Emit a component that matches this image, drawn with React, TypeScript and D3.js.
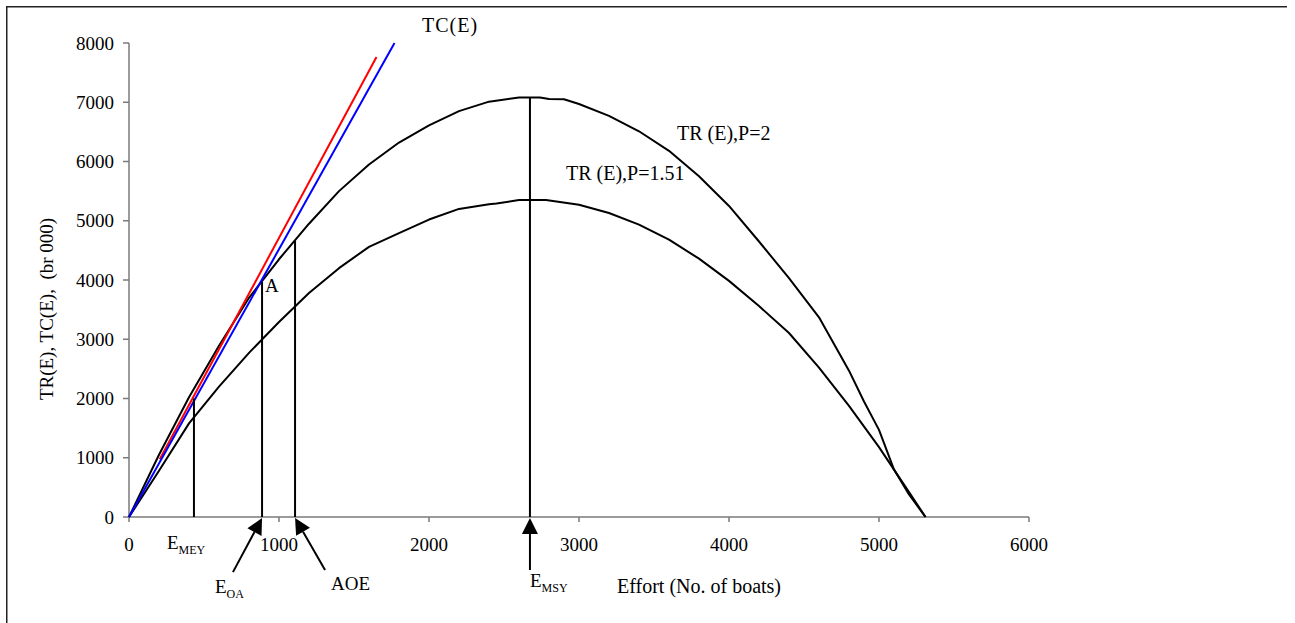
import React from "react";
import * as d3 from "d3";

// Fishing effort (number of boats)
const effortP2 = [0, 200, 400, 600, 800, 1000, 1200, 1400, 1600, 1800, 2000, 2200, 2400, 2600, 2740, 2800, 2900, 3000, 3200, 3400, 3600, 3800, 4000, 4200, 4400, 4600, 4800, 4900, 5000, 5100, 5200, 5310];
// Total revenue at price P = 2 (br 000)
const revenueP2 = [0, 1050, 2020, 2890, 3700, 4350, 4950, 5500, 5950, 6320, 6610, 6850, 7010, 7080, 7080, 7055, 7050, 6970, 6770, 6510, 6180, 5750, 5250, 4650, 4030, 3370, 2470, 1950, 1470, 800, 420, 0];

const effortP151 = [0, 200, 400, 600, 800, 1000, 1200, 1400, 1600, 1800, 2000, 2200, 2400, 2450, 2600, 2780, 3000, 3200, 3400, 3600, 3800, 4000, 4200, 4400, 4600, 4800, 5000, 5100, 5200, 5310];
// Total revenue at price P = 1.51 (br 000)
const revenueP151 = [0, 780, 1580, 2200, 2770, 3290, 3780, 4200, 4560, 4790, 5020, 5200, 5280, 5290, 5350, 5350, 5270, 5130, 4935, 4680, 4360, 3985, 3560, 3105, 2520, 1875, 1180, 800, 380, 0];

// Total cost lines
const costBlueEffort = [0, 1770];
const costBlue = [0, 8000];
const costRedEffort = [205, 1650];
const costRed = [975, 7765];

// Reference effort levels
const refEffort = [433, 887, 1107, 2673];
const refTop = [2000, 3975, 4660, 7085];

const xTicks = [0, 1000, 2000, 3000, 4000, 5000, 6000];
const yTicks = [0, 1000, 2000, 3000, 4000, 5000, 6000, 7000, 8000];

const FONT = "'Liberation Serif', 'Times New Roman', serif";

export default function App() {
  const W = 1295;
  const H = 623;
  const x = d3.scaleLinear().domain([0, 6000]).range([129, 1029]);
  const y = d3.scaleLinear().domain([0, 8000]).range([517, 43]);

  const line = d3
    .line<[number, number]>()
    .x((d) => x(d[0]))
    .y((d) => y(d[1]));

  const zip = (a: number[], b: number[]) => a.map((v, i) => [v, b[i]] as [number, number]);

  // Arrow: tip on the axis at effort e, tail below the axis (data units)
  const arrow = (e: number, tailE: number, tailV: number, key: string) => {
    const tx = x(e);
    const ty = y(0) + 1;
    const sx = x(tailE);
    const sy = y(tailV);
    const dx = tx - sx;
    const dy = ty - sy;
    const len = Math.hypot(dx, dy);
    const ux = dx / len;
    const uy = dy / len;
    const hl = 16;
    const hw = 8;
    const bx = tx - ux * hl;
    const by = ty - uy * hl;
    const p1 = [bx - uy * hw, by + ux * hw];
    const p2 = [bx + uy * hw, by - ux * hw];
    return (
      <g key={key}>
        <line x1={sx} y1={sy} x2={bx} y2={by} stroke="#000" strokeWidth={2} />
        <polygon points={`${tx},${ty} ${p1[0]},${p1[1]} ${p2[0]},${p2[1]}`} fill="#000" />
      </g>
    );
  };

  return (
    <svg
      width={W}
      height={H}
      style={{ position: "absolute", left: 0, top: 0, background: "#fff" }}
      fontFamily={FONT}
    >
      <rect x={0} y={0} width={W} height={H} fill="#fff" />
      {/* frame */}
      <path d="M6.75,623 V6.75 H1287" fill="none" stroke="#222" strokeWidth={1.5} />

      {/* axes */}
      <line x1={x(0)} x2={x(6000)} y1={y(0)} y2={y(0)} stroke="#7a7a7a" strokeWidth={1.5} />
      <line x1={x(0)} x2={x(0)} y1={y(0)} y2={y(8000)} stroke="#7a7a7a" strokeWidth={1.5} />
      {yTicks.map((t) => (
        <g key={"y" + t}>
          <line x1={x(0) - 6} x2={x(0)} y1={y(t)} y2={y(t)} stroke="#7a7a7a" strokeWidth={1.5} />
          <text x={114} y={y(t)} dy="0.35em" textAnchor="end" fontSize={19}>
            {t}
          </text>
        </g>
      ))}
      {xTicks.map((t) => (
        <g key={"x" + t}>
          <line x1={x(t)} x2={x(t)} y1={y(0)} y2={y(0) + 5} stroke="#7a7a7a" strokeWidth={1.5} />
          <text x={x(t)} y={551} textAnchor="middle" fontSize={19}>
            {t}
          </text>
        </g>
      ))}

      {/* axis titles */}
      <text
        transform={`translate(53,${309}) rotate(-90)`}
        textAnchor="middle"
        fontSize={19}
        xmlSpace="preserve"
      >
        TR(E), TC(E),  (br 000)
      </text>
      <text x={617} y={593} fontSize={20}>
        Effort (No. of boats)
      </text>

      {/* revenue curves */}
      <path d={line(zip(effortP2, revenueP2)) || ""} fill="none" stroke="#000" strokeWidth={2} strokeLinejoin="round" />
      <path d={line(zip(effortP151, revenueP151)) || ""} fill="none" stroke="#000" strokeWidth={2} strokeLinejoin="round" />

      {/* cost lines */}
      <path d={line(zip(costRedEffort, costRed)) || ""} fill="none" stroke="#ff0000" strokeWidth={2} />
      <path d={line(zip(costBlueEffort, costBlue)) || ""} fill="none" stroke="#0000ff" strokeWidth={2} />

      {/* reference effort levels */}
      {refEffort.map((e, i) => (
        <line key={"r" + i} x1={x(e)} x2={x(e)} y1={y(0)} y2={y(refTop[i])} stroke="#000" strokeWidth={2} />
      ))}

      {arrow(refEffort[1], 693, -930, "a1")}
      {arrow(refEffort[2], 1307, -895, "a2")}
      {arrow(refEffort[3], 2673, -895, "a3")}

      {/* labels */}
      <text x={422} y={32} fontSize={20} letterSpacing={1}>
        TC(E)
      </text>
      <text x={677} y={140} fontSize={20}>
        TR (E),P=2
      </text>
      <text x={566} y={180} fontSize={20}>
        TR (E),P=1.51
      </text>
      <text x={265} y={292} fontSize={19}>
        A
      </text>

      <text x={167} y={549} fontSize={19}>
        E
        <tspan fontSize={12} dy={5}>
          MEY
        </tspan>
      </text>
      <text x={215} y={593} fontSize={19}>
        E
        <tspan fontSize={12} dy={5}>
          OA
        </tspan>
      </text>
      <text x={331} y={590} fontSize={19}>
        AOE
      </text>
      <text x={530} y={587} fontSize={19}>
        E
        <tspan fontSize={12} dy={5}>
          MSY
        </tspan>
      </text>
    </svg>
  );
}
